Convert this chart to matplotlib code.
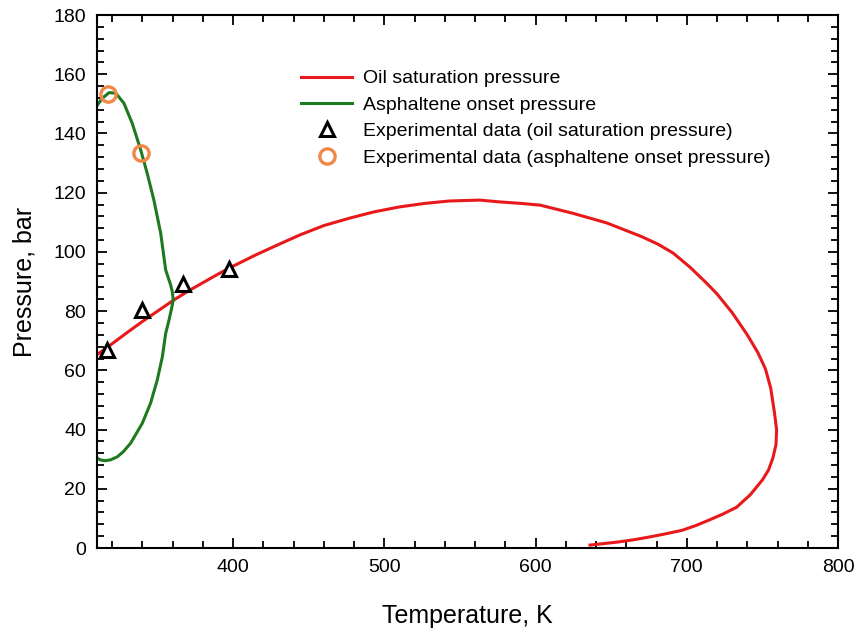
import matplotlib
matplotlib.use('Agg')
import matplotlib.pyplot as plt
from matplotlib.ticker import MultipleLocator

plt.rcParams['font.family'] = ['Liberation Sans', 'DejaVu Sans']

# oil saturation pressure envelope (K, bar)
sat_T = [310, 320, 330, 340, 350, 360, 370, 380, 390, 400, 415, 430, 444, 460, 477,
         493, 510, 527, 543, 563, 576, 590, 603, 625, 647, 670, 681, 691, 702, 713, 720,
         730, 740, 747, 752, 755.5, 758, 759.4, 759, 757, 754, 750, 742, 733, 724, 715,
         706, 697, 686, 675, 665, 654, 645, 636]
sat_P = [65.3, 69.0, 72.8, 76.5, 80.0, 83.5, 86.7, 89.6, 92.5, 95.2, 99.0, 102.5, 105.7, 108.9, 111.4,
         113.5, 115.2, 116.4, 117.2, 117.5, 116.9, 116.4, 115.8, 113.0, 109.8, 105.2, 102.6, 99.6, 94.9, 89.5, 85.8,
         79.5, 72.0, 66.0, 60.5, 54.0, 45.6, 39.9, 35.0, 30.5, 26.3, 23.0, 18.0, 13.8, 11.5, 9.5,
         7.6, 6.0, 4.8, 3.7, 2.8, 2.0, 1.5, 1.0]

# asphaltene onset pressure (K, bar)
aop_T = [308, 310.2, 312.5, 315.7, 319, 323.4, 327.5, 332.2, 339.9, 345.4, 349.8, 353.2, 355.4, 357.5, 359.1, 360.4,
         359.8, 358.7, 355.4, 352.1, 347.6, 343.2, 338.9, 333.3, 327.8, 322.4, 318, 313.5, 310.2, 308]
aop_P = [31.5, 30.3, 29.7, 29.5, 29.8, 30.8, 32.6, 35.4, 42.1, 48.9, 56.7, 64.6, 72.5, 76.8, 80.4, 83.8,
         86.5, 88.8, 93.9, 106.3, 117.5, 126.5, 134.4, 143.4, 150.2, 153.6, 153.8, 151.9, 149.6, 147.0]

# experimental data
exp_sat_T = [316.8, 339.9, 367, 397]
exp_sat_P = [67.0, 80.4, 89, 94.2]
exp_aop_T = [317.3, 339.3]
exp_aop_P = [153.3, 133.3]

fig = plt.figure(figsize=(8.61, 6.34), dpi=100)
ax = fig.add_axes([0.1127, 0.1356, 0.8606, 0.8407])

ax.plot(sat_T, sat_P, color='#e8191b', lw=2.2, label='Oil saturation pressure')
ax.plot(aop_T, aop_P, color='#1f7a1f', lw=2.2, label='Asphaltene onset pressure')
ax.plot(exp_sat_T, exp_sat_P, ls='none', marker='^', ms=10, mfc='white', mec='black', mew=2.2,
        label='Experimental data (oil saturation pressure)')
ax.plot(exp_aop_T, exp_aop_P, ls='none', marker='o', ms=11, mfc='none', mec='#f0884a', mew=2.4,
        label='Experimental data (asphaltene onset pressure)')

ax.set_xlim(310, 800)
ax.set_ylim(0, 180)
ax.xaxis.set_major_locator(MultipleLocator(100))
ax.xaxis.set_minor_locator(MultipleLocator(20))
ax.yaxis.set_major_locator(MultipleLocator(20))
ax.yaxis.set_minor_locator(MultipleLocator(4))
ax.tick_params(which='both', direction='in', top=True, right=True, width=1.3)
ax.tick_params(which='major', length=7, labelsize=14, pad=8)
ax.tick_params(which='minor', length=5)
for s in ax.spines.values():
    s.set_linewidth(1.5)

ax.set_xlabel('Temperature, K', fontsize=18, labelpad=20)
ax.set_ylabel('Pressure, bar', fontsize=18, labelpad=12)

ax.legend(loc='upper left', bbox_to_anchor=(0.252, 0.93), frameon=False, fontsize=14,
          handlelength=2.6, handletextpad=0.6, labelspacing=0.45)

fig.savefig('out.png', dpi=100)
